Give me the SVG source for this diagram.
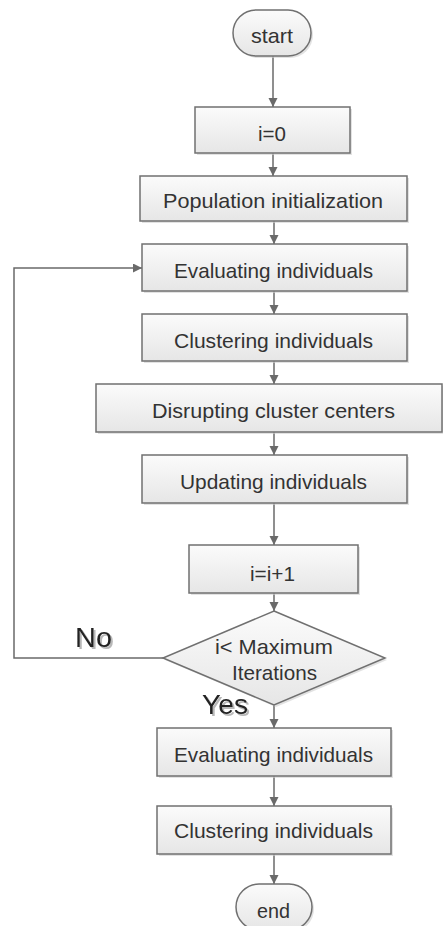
<svg xmlns="http://www.w3.org/2000/svg" width="443" height="926" viewBox="0 0 443 926">
  <defs>
    <linearGradient id="g" x1="0" y1="0" x2="0" y2="1">
      <stop offset="0" stop-color="#fbfbfb"/>
      <stop offset="1" stop-color="#e6e6e6"/>
    </linearGradient>
    <filter id="ts" x="-20%" y="-20%" width="150%" height="150%">
      <feDropShadow dx="2" dy="2" stdDeviation="0.6" flood-color="#9a9a9a" flood-opacity="0.7"/>
    </filter>
    <marker id="arr" markerUnits="userSpaceOnUse" markerWidth="10" markerHeight="10" refX="9" refY="4.5" orient="auto">
      <path d="M0,0 L9,4.5 L0,9 z" fill="#6a6a6a"/>
    </marker>
  </defs>
  <style>
    .box{fill:url(#g);stroke:#707070;stroke-width:1.5}
    .sh{fill:#cfcfcf;opacity:0.6}
    .t{font-family:"Liberation Sans",Arial,sans-serif;font-size:21px;fill:#333;text-anchor:middle}
    .lbl{font-family:"Liberation Sans",Arial,sans-serif;font-size:27px;fill:#222;text-anchor:start;filter:url(#ts)}
    .c{fill:none;stroke:#6a6a6a;stroke-width:1.5;marker-end:url(#arr)}
  </style>
  <rect width="443" height="926" fill="#fff"/>

  <g id="connectors">
    <path class="c" d="M273 56 V107"/>
    <path class="c" d="M273 153 V176"/>
    <path class="c" d="M274 221 V244"/>
    <path class="c" d="M274 291 V314"/>
    <path class="c" d="M274 361 V384"/>
    <path class="c" d="M274 432 V455"/>
    <path class="c" d="M274 503 V545"/>
    <path class="c" d="M274 593 V611"/>
    <path class="c" d="M274 705 V728"/>
    <path class="c" d="M274 776 V806"/>
    <path class="c" d="M274 854 V884"/>
    <path class="c" d="M163 658 H14 V268 H142"/>
  </g>

  <g id="start">
    <rect class="sh" x="235" y="12" width="78" height="46" rx="23"/>
    <rect class="box" x="233" y="10" width="78" height="46" rx="23"/>
    <text class="t" x="272" y="43" textLength="42" lengthAdjust="spacingAndGlyphs">start</text>
  </g>
  <g id="i0">
    <rect class="sh" x="197" y="109" width="155" height="46"/>
    <rect class="box" x="195" y="107" width="155" height="46"/>
    <text class="t" x="272" y="141" textLength="28" lengthAdjust="spacingAndGlyphs">i=0</text>
  </g>
  <g id="popinit">
    <rect class="sh" x="142" y="178" width="267" height="45"/>
    <rect class="box" x="140" y="176" width="267" height="45"/>
    <text class="t" x="273" y="208" textLength="220" lengthAdjust="spacingAndGlyphs">Population initialization</text>
  </g>
  <g id="eval1">
    <rect class="sh" x="144" y="246" width="265" height="47"/>
    <rect class="box" x="142" y="244" width="265" height="47"/>
    <text class="t" x="273.5" y="278" textLength="199" lengthAdjust="spacingAndGlyphs">Evaluating individuals</text>
  </g>
  <g id="clust1">
    <rect class="sh" x="144" y="316" width="265" height="47"/>
    <rect class="box" x="142" y="314" width="265" height="47"/>
    <text class="t" x="273.5" y="348" textLength="199" lengthAdjust="spacingAndGlyphs">Clustering individuals</text>
  </g>
  <g id="disrupt">
    <rect class="sh" x="98" y="386" width="346" height="48"/>
    <rect class="box" x="96" y="384" width="346" height="48"/>
    <text class="t" x="273.5" y="418" textLength="243" lengthAdjust="spacingAndGlyphs">Disrupting cluster centers</text>
  </g>
  <g id="update">
    <rect class="sh" x="144" y="457" width="265" height="48"/>
    <rect class="box" x="142" y="455" width="265" height="48"/>
    <text class="t" x="273.5" y="489" textLength="187" lengthAdjust="spacingAndGlyphs">Updating individuals</text>
  </g>
  <g id="inc">
    <rect class="sh" x="191" y="547" width="169" height="48"/>
    <rect class="box" x="189" y="545" width="169" height="48"/>
    <text class="t" x="272.5" y="581" textLength="45" lengthAdjust="spacingAndGlyphs">i=i+1</text>
  </g>
  <g id="decision">
    <polygon class="sh" points="276,613 387,660 276,707 165,660"/>
    <polygon class="box" points="274,611 385,658 274,705 163,658"/>
    <text class="t" x="274" y="654" textLength="118" lengthAdjust="spacingAndGlyphs">i&lt; Maximum</text>
    <text class="t" x="274.5" y="680" textLength="85" lengthAdjust="spacingAndGlyphs">Iterations</text>
  </g>
  <g id="labels">
    <text class="lbl" x="75" y="647" textLength="37" lengthAdjust="spacingAndGlyphs">No</text>
    <text class="lbl" x="202" y="714" textLength="46" lengthAdjust="spacingAndGlyphs">Yes</text>
  </g>
  <g id="eval2">
    <rect class="sh" x="159" y="730" width="234" height="48"/>
    <rect class="box" x="157" y="728" width="234" height="48"/>
    <text class="t" x="273.5" y="762" textLength="199" lengthAdjust="spacingAndGlyphs">Evaluating individuals</text>
  </g>
  <g id="clust2">
    <rect class="sh" x="159" y="808" width="234" height="48"/>
    <rect class="box" x="157" y="806" width="234" height="48"/>
    <text class="t" x="273.5" y="838" textLength="199" lengthAdjust="spacingAndGlyphs">Clustering individuals</text>
  </g>
  <g id="end">
    <rect class="sh" x="238" y="886" width="76" height="46" rx="23"/>
    <rect class="box" x="236" y="884" width="76" height="46" rx="23"/>
    <text class="t" x="273.5" y="918" textLength="33" lengthAdjust="spacingAndGlyphs">end</text>
  </g>
</svg>
